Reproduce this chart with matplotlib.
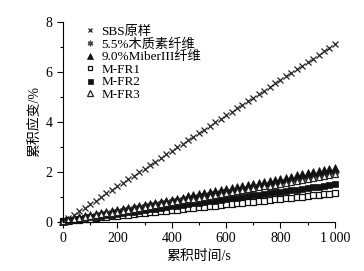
import matplotlib
matplotlib.use('Agg')
import matplotlib.pyplot as plt
from matplotlib.ticker import MultipleLocator, FuncFormatter
import numpy as np

plt.rcParams['font.family'] = ['Liberation Serif', 'Noto Sans CJK SC']
plt.rcParams['axes.unicode_minus'] = False

# 累积时间 (s)
time_s = np.arange(0, 1001, 20)

# 累积应变 (%)
sbs = [0, 0.14, 0.28, 0.43, 0.57, 0.71, 0.85, 0.99, 1.14, 1.28, 1.42,
       1.56, 1.70, 1.85, 1.99, 2.13, 2.27, 2.41, 2.56, 2.70, 2.84,
       2.98, 3.12, 3.27, 3.41, 3.55, 3.69, 3.83, 3.98, 4.12, 4.26,
       4.40, 4.54, 4.69, 4.83, 4.97, 5.11, 5.25, 5.40, 5.54, 5.68,
       5.82, 5.96, 6.11, 6.25, 6.39, 6.53, 6.67, 6.82, 6.96, 7.10]
lignin = [0.04, 0.08, 0.12, 0.16, 0.20, 0.24, 0.28, 0.31, 0.35, 0.39, 0.43,
          0.47, 0.51, 0.55, 0.59, 0.63, 0.67, 0.71, 0.75, 0.78, 0.82,
          0.86, 0.90, 0.94, 0.98, 1.02, 1.06, 1.10, 1.14, 1.18, 1.22,
          1.25, 1.29, 1.33, 1.37, 1.41, 1.45, 1.49, 1.53, 1.57, 1.61,
          1.65, 1.69, 1.73, 1.76, 1.80, 1.84, 1.88, 1.92, 1.96, 2.00]
miber = [0.05, 0.09, 0.13, 0.18, 0.22, 0.26, 0.30, 0.34, 0.39, 0.43, 0.47,
         0.51, 0.55, 0.60, 0.64, 0.68, 0.72, 0.76, 0.81, 0.85, 0.89,
         0.93, 0.97, 1.02, 1.06, 1.10, 1.14, 1.18, 1.23, 1.27, 1.31,
         1.35, 1.39, 1.44, 1.48, 1.52, 1.56, 1.60, 1.65, 1.69, 1.73,
         1.77, 1.81, 1.86, 1.90, 1.94, 1.98, 2.02, 2.07, 2.11, 2.15]
mfr1 = [0.02, 0.04, 0.07, 0.09, 0.11, 0.13, 0.16, 0.18, 0.20, 0.22, 0.25,
        0.27, 0.29, 0.31, 0.34, 0.36, 0.38, 0.40, 0.43, 0.45, 0.47,
        0.49, 0.52, 0.54, 0.56, 0.58, 0.61, 0.63, 0.65, 0.67, 0.70,
        0.72, 0.74, 0.76, 0.79, 0.81, 0.83, 0.85, 0.88, 0.90, 0.92,
        0.94, 0.97, 0.99, 1.01, 1.03, 1.06, 1.08, 1.10, 1.12, 1.15]
mfr2 = [0.03, 0.06, 0.09, 0.12, 0.15, 0.18, 0.21, 0.24, 0.27, 0.29, 0.32,
        0.35, 0.38, 0.41, 0.44, 0.47, 0.50, 0.53, 0.56, 0.59, 0.62,
        0.65, 0.68, 0.71, 0.74, 0.76, 0.79, 0.82, 0.85, 0.88, 0.91,
        0.94, 0.97, 1.00, 1.03, 1.06, 1.09, 1.12, 1.15, 1.18, 1.21,
        1.23, 1.26, 1.29, 1.32, 1.35, 1.38, 1.41, 1.44, 1.47, 1.50]
mfr3 = [0.04, 0.08, 0.11, 0.15, 0.19, 0.23, 0.26, 0.30, 0.34, 0.37, 0.41,
        0.45, 0.49, 0.52, 0.56, 0.60, 0.63, 0.67, 0.71, 0.75, 0.78,
        0.82, 0.86, 0.90, 0.93, 0.97, 1.01, 1.04, 1.08, 1.12, 1.16,
        1.19, 1.23, 1.27, 1.30, 1.34, 1.38, 1.42, 1.45, 1.49, 1.53,
        1.57, 1.60, 1.64, 1.68, 1.71, 1.75, 1.79, 1.83, 1.86, 1.90]

labels = ['SBS原样', '5.5%木质素纤维', '9.0%MiberIII纤维', 'M-FR1', 'M-FR2', 'M-FR3']
series = [sbs, lignin, miber, mfr1, mfr2, mfr3]

fig = plt.figure(figsize=(3.64, 2.71), dpi=100)
ax = fig.add_axes([0.173, 0.181, 0.747, 0.738])

styles = [
    dict(marker='x', ms=4, mfc='none', mec='#222222', mew=0.9),
    dict(marker=(6, 2, 0), ms=5, mfc='none', mec='#444444', mew=1.0),
    dict(marker='^', ms=5.5, mfc='#111111', mec='#111111', mew=0.5),
    dict(marker='s', ms=4.2, mfc='white', mec='#111111', mew=0.9),
    dict(marker='s', ms=4.5, mfc='#111111', mec='#111111', mew=0.5),
    dict(marker='^', ms=5, mfc='white', mec='#222222', mew=0.9),
]

for y, lab, st in zip(series, labels, styles):
    ax.plot(time_s, y, linestyle='none', label=lab, clip_on=False, **st)

ax.set_xlim(0, 1000)
ax.set_ylim(0, 8)
ax.xaxis.set_major_locator(MultipleLocator(200))
ax.xaxis.set_minor_locator(MultipleLocator(100))
ax.yaxis.set_major_locator(MultipleLocator(2))
ax.yaxis.set_minor_locator(MultipleLocator(1))
ax.xaxis.set_major_formatter(FuncFormatter(
    lambda v, p: '1\u2009000' if v == 1000 else f'{v:.0f}'))
ax.tick_params(which='both', direction='out', labelsize=10, width=0.8)
ax.tick_params(which='major', length=4)
ax.tick_params(which='minor', length=2.5)
ax.spines['top'].set_visible(False)
ax.spines['right'].set_visible(False)

ax.set_xlabel('累积时间/s', fontsize=10, labelpad=3)
ax.set_ylabel('累积应变/%', fontsize=10, labelpad=3)

ax.legend(loc='upper left', bbox_to_anchor=(0.045, 1.02), frameon=False,
          fontsize=9.5, handlelength=1.0, handletextpad=0.4,
          labelspacing=0.02, borderaxespad=0.2, markerscale=0.8)

plt.savefig('out.png', dpi=100)
plt.close()
